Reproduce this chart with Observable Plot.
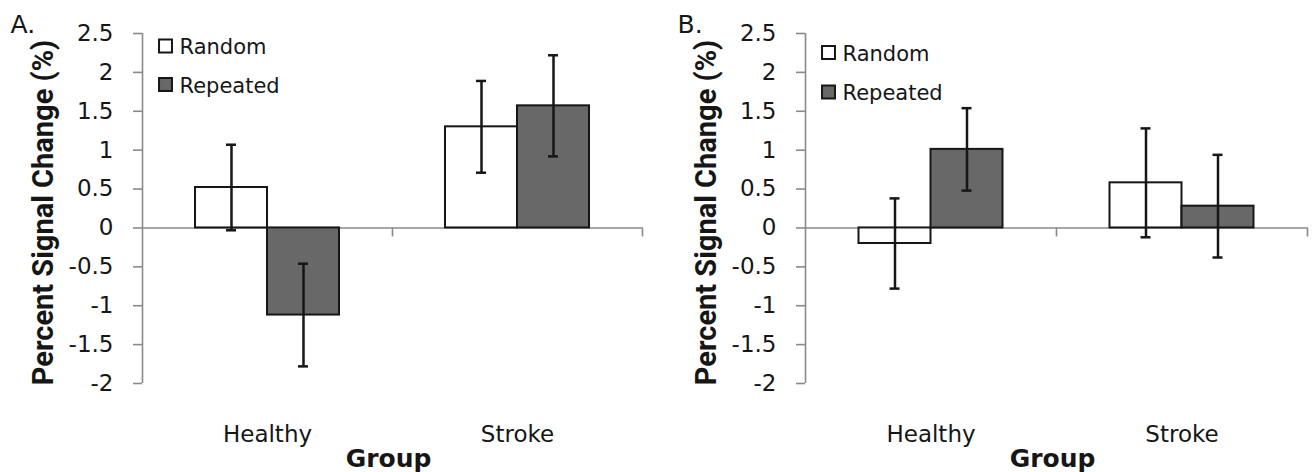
<!DOCTYPE html>
<html>
<head>
<meta charset="utf-8">
<script src="https://cdn.jsdelivr.net/npm/d3@7"></script>
<script src="https://cdn.jsdelivr.net/npm/@observablehq/plot@0.6"></script>
<style>
  html, body { margin: 0; padding: 0; background: #fff; }
  #wrap { position: relative; width: 1312px; height: 472px; overflow: hidden; }
  .panel { position: absolute; top: 0; }
</style>
</head>
<body>
<div id="wrap">
  <div id="panelA" class="panel" style="left:0px"></div>
  <div id="panelB" class="panel" style="left:656px"></div>
</div>
<script>
// ---- data ----
const groups = ["Healthy", "Stroke"];
const series = ["Random", "Repeated"];
const yTicks = [-2, -1.5, -1, -0.5, 0, 0.5, 1, 1.5, 2, 2.5];

// Panel A
const aRandom      = [0.52, 1.30];
const aRandomErr   = [0.55, 0.59];
const aRepeated    = [-1.12, 1.57];
const aRepeatedErr = [0.66, 0.65];

// Panel B
const bRandom      = [-0.20, 0.58];
const bRandomErr   = [0.58, 0.70];
const bRepeated    = [1.01, 0.28];
const bRepeatedErr = [0.53, 0.66];

const yLabel = "Percent Signal Change (%)";
const xLabel = "Group";

function rows(random, randomErr, repeated, repeatedErr) {
  const out = [];
  groups.forEach((g, i) => {
    out.push({group: g, series: "Random", value: random[i], err: randomErr[i]});
    out.push({group: g, series: "Repeated", value: repeated[i], err: repeatedErr[i]});
  });
  return out;
}

const fills = {Random: "#ffffff", Repeated: "#686868"};
const axisGray = "#8a8a8a";
const ink = "#161616";

function panel(letter, data, opts) {
  const W = 656, H = 472;
  const plotW = W - opts.ml - opts.mr;
  const bw = plotW / groups.length;
  const half = bw / 2;
  const barW = 72;
  const inner = half - barW;      // gap between band edge and group of bars
  const capHalf = 5;
  const rnd = data.filter(d => d.series === "Random");
  const rep = data.filter(d => d.series === "Repeated");
  const marks = [
    // zero baseline (category axis)
    Plot.ruleY([0], {stroke: axisGray, strokeWidth: 1.6}),
    // category boundary ticks
    Plot.ruleX(groups, {x: d => d, dx: half, y1: 0, y2: 0, insetBottom: -9, stroke: axisGray, strokeWidth: 1.6}),
    // y axis line
    Plot.ruleX([groups[0]], {x: d => d, dx: -half, stroke: axisGray, strokeWidth: 1.6}),
    Plot.axisY({ticks: yTicks, tickSize: 9, tickPadding: 20, tickFormat: d => String(d),
                stroke: axisGray, strokeWidth: 1.6, label: null, fontSize: 23}),
    Plot.axisX({tickSize: 0, tickPadding: 42, label: null, fontSize: 23}),
    // bars
    Plot.barY(rnd, {x: "group", y: "value", insetLeft: inner, insetRight: half,
                    fill: fills.Random, stroke: ink, strokeWidth: 2}),
    Plot.barY(rep, {x: "group", y: "value", insetLeft: half, insetRight: inner,
                    fill: fills.Repeated, stroke: ink, strokeWidth: 2}),
    // error bars
    Plot.ruleX(rnd, {x: "group", dx: -barW / 2, y1: d => d.value - d.err, y2: d => d.value + d.err, stroke: ink, strokeWidth: 2.5}),
    Plot.ruleX(rep, {x: "group", dx: barW / 2, y1: d => d.value - d.err, y2: d => d.value + d.err, stroke: ink, strokeWidth: 2.5}),
    Plot.tickY(rnd, {x: "group", y: d => d.value + d.err, insetLeft: inner + barW / 2 - capHalf, insetRight: half + barW / 2 - capHalf, stroke: ink, strokeWidth: 2.5}),
    Plot.tickY(rnd, {x: "group", y: d => d.value - d.err, insetLeft: inner + barW / 2 - capHalf, insetRight: half + barW / 2 - capHalf, stroke: ink, strokeWidth: 2.5}),
    Plot.tickY(rep, {x: "group", y: d => d.value + d.err, insetLeft: half + barW / 2 - capHalf, insetRight: inner + barW / 2 - capHalf, stroke: ink, strokeWidth: 2.5}),
    Plot.tickY(rep, {x: "group", y: d => d.value - d.err, insetLeft: half + barW / 2 - capHalf, insetRight: inner + barW / 2 - capHalf, stroke: ink, strokeWidth: 2.5}),
    // legend (inside plot, top-left)
    Plot.dot([series[0]], {frameAnchor: "top-left", dx: 23, dy: opts.legY[0], symbol: "square", r: 7.3,
                           fill: fills.Random, stroke: ink, strokeWidth: 2}),
    Plot.dot([series[1]], {frameAnchor: "top-left", dx: 23, dy: opts.legY[1], symbol: "square", r: 7.3,
                           fill: fills.Repeated, stroke: ink, strokeWidth: 2}),
    Plot.text([series[0]], {text: d => d, frameAnchor: "top-left", dx: 37, dy: opts.legY[0] + 1.5,
                            textAnchor: "start", lineAnchor: "middle", fontSize: 21}),
    Plot.text([series[1]], {text: d => d, frameAnchor: "top-left", dx: 37, dy: opts.legY[1] + 1.5,
                            textAnchor: "start", lineAnchor: "middle", fontSize: 21}),
    // y axis title
    Plot.text([yLabel], {text: d => d, frameAnchor: "left", dx: -99, dy: 4, rotate: -90,
                         textAnchor: "middle", lineAnchor: "middle", fontFamily: "Roboto",
                         fontWeight: "bold", fontSize: 29}),
    // x axis title
    Plot.text([xLabel], {text: d => d, frameAnchor: "bottom", dx: -4, dy: 75,
                         textAnchor: "middle", lineAnchor: "middle", fontWeight: "bold", fontSize: 25}),
    // panel letter
    Plot.text([letter], {text: d => d, frameAnchor: "top-left", dx: opts.letterDx, dy: -9,
                         textAnchor: "start", lineAnchor: "middle", fontSize: 25})
  ];
  return Plot.plot({
    width: W, height: H,
    marginLeft: opts.ml, marginRight: opts.mr, marginTop: 33, marginBottom: 89,
    style: {fontFamily: "DejaVu Sans", fontSize: "23px", color: ink, background: "#fff", overflow: "visible"},
    x: {domain: groups, type: "band", padding: 0},
    y: {domain: [-2, 2.5]},
    marks
  });
}

document.getElementById("panelA").append(
  panel("A.", rows(aRandom, aRandomErr, aRepeated, aRepeatedErr), {ml: 142, mr: 14, legY: [12.5, 51], letterDx: -132})
);
document.getElementById("panelB").append(
  panel("B.", rows(bRandom, bRandomErr, bRepeated, bRepeatedErr), {ml: 149, mr: 5, legY: [19, 58.5], letterDx: -128})
);
</script>
</body>
</html>
